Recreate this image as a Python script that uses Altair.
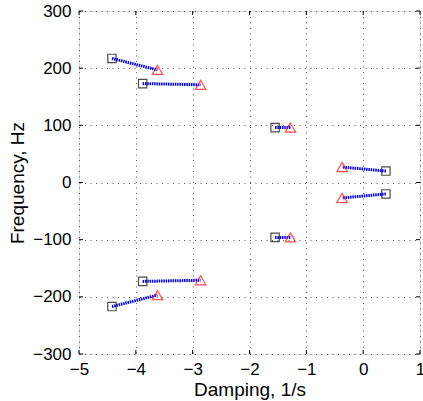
import altair as alt
import pandas as pd

# start points (squares) and end points (triangles)
start_x = [-4.42, -3.88, -1.55, 0.40, 0.40, -1.55, -3.88, -4.42]
start_y = [217, 173, 96, 20, -20, -96, -173, -217]
end_x = [-3.62, -2.86, -1.28, -0.37, -0.37, -1.28, -2.86, -3.62]
end_y = [197, 171, 96, 27, -27, -96, -171, -197]
x_ticks = [-5, -4, -3, -2, -1, 0, 1]
y_ticks = [-300, -200, -100, 0, 100, 200, 300]

W, H = 341, 343
FONT = "Liberation Sans"

rows = []
for i, (sx, sy, ex, ey) in enumerate(zip(start_x, start_y, end_x, end_y)):
    rows.append({"branch": i, "order": 0, "x": sx, "y": sy})
    rows.append({"branch": i, "order": 1, "x": ex, "y": ey})
lines_df = pd.DataFrame(rows)
start_df = pd.DataFrame({"x": start_x, "y": start_y})
end_df = pd.DataFrame({"x": end_x, "y": end_y})

xs = alt.Scale(domain=[-5, 1], nice=False, zero=False)
ys = alt.Scale(domain=[-300, 300], nice=False, zero=False)

xax = alt.Axis(values=x_ticks, format="d", title="Damping, 1/s", grid=True,
               gridDash=[1, 4.5], gridColor="#333", gridOpacity=0.8,
               ticks=False, domain=False,
               labelFont=FONT, labelFontSize=17, labelColor="#000", labelPadding=7,
               titleFont=FONT, titleFontSize=19, titleFontWeight="normal",
               titleColor="#000", titlePadding=3, labelFlush=False)
yax = alt.Axis(values=y_ticks, format="d", title="Frequency, Hz", grid=True,
               gridDash=[1, 4.5], gridColor="#333", gridOpacity=0.8,
               ticks=False, domain=False,
               labelFont=FONT, labelFontSize=17, labelColor="#000", labelPadding=8,
               titleFont=FONT, titleFontSize=19, titleFontWeight="normal",
               titleColor="#000", titlePadding=5, labelFlush=False)

base_lines = alt.Chart(lines_df).mark_line(
    color="#0000ff", strokeWidth=3, strokeDash=[1.5, 0.8]
).encode(
    x=alt.X("x:Q", scale=xs, axis=xax),
    y=alt.Y("y:Q", scale=ys, axis=yax),
    detail="branch:N",
    order="order:Q",
)

squares = alt.Chart(start_df).mark_point(
    shape="square", size=70, color="#000", strokeWidth=1.2, filled=False
).encode(x=alt.X("x:Q", scale=xs), y=alt.Y("y:Q", scale=ys))

triangles = alt.Chart(end_df).mark_point(
    shape="triangle-up", size=110, color="#ff0000", strokeWidth=1.2, filled=False
).encode(x=alt.X("x:Q", scale=xs), y=alt.Y("y:Q", scale=ys))

# inward ticks on all four sides
xt_df = pd.DataFrame({"x": x_ticks})
yt_df = pd.DataFrame({"y": y_ticks})
tick_bottom = alt.Chart(xt_df).mark_rule(color="#000", strokeWidth=1).encode(
    x=alt.X("x:Q", scale=xs), y=alt.value(H), y2=alt.value(H - 4))
tick_top = alt.Chart(xt_df).mark_rule(color="#000", strokeWidth=1).encode(
    x=alt.X("x:Q", scale=xs), y=alt.value(0), y2=alt.value(4))
tick_left = alt.Chart(yt_df).mark_rule(color="#000", strokeWidth=1).encode(
    y=alt.Y("y:Q", scale=ys), x=alt.value(0), x2=alt.value(4))
tick_right = alt.Chart(yt_df).mark_rule(color="#000", strokeWidth=1).encode(
    y=alt.Y("y:Q", scale=ys), x=alt.value(W), x2=alt.value(W - 4))

chart = alt.layer(
    base_lines, squares, triangles, tick_bottom, tick_top, tick_left, tick_right
).properties(
    width=W, height=H,
    autosize=alt.AutoSizeParams(type="none"),
    padding={"left": 79, "top": 11, "right": 3, "bottom": 47},
).configure_view(
    stroke="#000", strokeWidth=1.2
).configure(background="white")

chart.save("out.html", embed_options={"renderer": "svg", "actions": False})
